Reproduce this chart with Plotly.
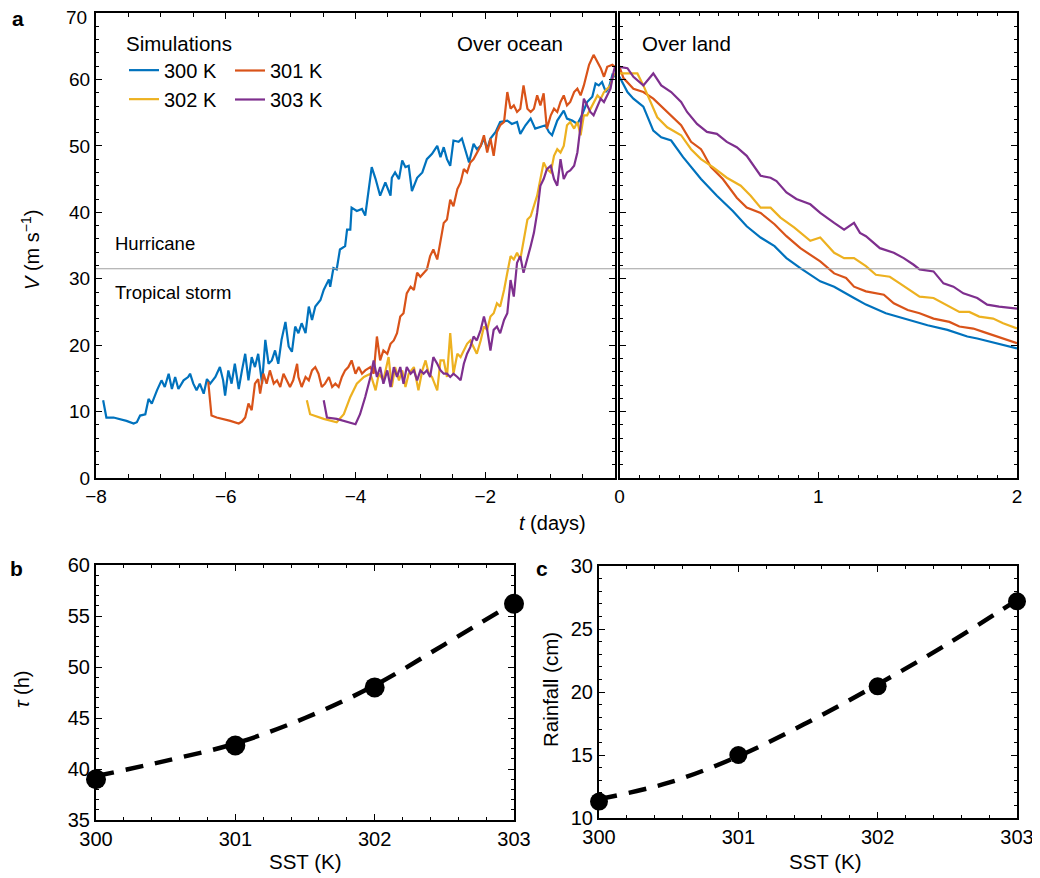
import plotly.graph_objects as go

# ---------------- data ----------------
SERIES = ["300 K", "301 K", "302 K", "303 K"]
COLORS = ["#0072BD", "#D95319", "#EDB120", "#7E2F8E"]
HURRICANE_V = 31.5
V_TICKS = [0, 10, 20, 30, 40, 50, 60, 70]

# Over ocean (t in days, V in m/s)
t_ocean_300 = [-7.89, -7.84, -7.73, -7.63, -7.53, -7.42, -7.37, -7.32, -7.24, -7.19, -7.14, -7.06, -6.99, -6.94,
               -6.88, -6.83, -6.78, -6.73, -6.65, -6.58, -6.55, -6.50, -6.45, -6.40, -6.34, -6.29, -6.24, -6.16,
               -6.09, -6.04, -6.01, -5.96, -5.91, -5.86, -5.80, -5.75, -5.70, -5.65, -5.60, -5.55, -5.50, -5.44,
               -5.39, -5.34, -5.29, -5.24, -5.19, -5.14, -5.08, -5.03, -4.98, -4.93, -4.88, -4.83, -4.77, -4.72,
               -4.67, -4.62, -4.54, -4.49, -4.41, -4.39, -4.34, -4.29, -4.24, -4.16, -4.13, -4.08, -4.06, -3.98,
               -3.90, -3.85, -3.75, -3.69, -3.62, -3.54, -3.46, -3.44, -3.39, -3.33, -3.28, -3.23, -3.18, -3.13,
               -3.05, -2.97, -2.90, -2.82, -2.74, -2.69, -2.64, -2.59, -2.54, -2.49, -2.41, -2.36, -2.31, -2.25,
               -2.18, -2.13, -2.07, -2.02, -1.97, -1.92, -1.84, -1.77, -1.66, -1.59, -1.51, -1.46, -1.38, -1.30,
               -1.23, -1.15, -1.07, -1.02, -0.97, -0.89, -0.84, -0.79, -0.74, -0.66, -0.58, -0.51, -0.43, -0.35,
               -0.30, -0.25, -0.20, -0.14, -0.09, -0.04, 0.0]
v_ocean_300 = [11.7, 9.1, 9.1, 8.9, 8.6, 8.2, 8.4, 9.4, 9.6, 11.9, 11.2, 13.2, 14.7, 13.7,
               15.7, 13.4, 15.2, 13.4, 14.7, 15.2, 15.7, 14.2, 13.2, 14.2, 12.7, 14.9, 14.2, 15.2,
               16.7, 14.7, 12.4, 16.2, 14.2, 17.2, 13.4, 16.2, 18.7, 14.7, 18.2, 16.7, 18.7, 14.2,
               20.8, 17.2, 17.7, 19.2, 17.2, 20.8, 23.5, 19.8, 19.0, 22.8, 21.8, 23.3, 21.8, 25.8,
               23.8, 25.8, 26.8, 28.3, 29.9, 28.8, 31.6, 31.4, 34.4, 34.9, 37.4, 37.4, 40.7, 40.2,
               40.5, 39.5, 46.8, 45.0, 42.5, 44.5, 42.5, 45.2, 46.0, 45.0, 47.8, 46.8, 47.0, 43.2,
               45.2, 46.0, 48.0, 48.8, 50.0, 48.3, 49.8, 48.0, 47.0, 50.8, 50.6, 51.1, 49.5, 47.5,
               50.3, 49.5, 50.0, 51.1, 49.5, 51.1, 52.1, 53.6, 53.8, 53.3, 53.6, 51.8, 53.1, 54.1,
               52.6, 52.8, 53.1, 52.1, 51.6, 53.8, 54.6, 55.3, 54.1, 53.8, 53.3, 54.6, 56.6, 57.4,
               59.4, 59.1, 59.6, 58.1, 58.9, 60.7, 60.4]

t_ocean_301 = [-6.27, -6.22, -6.14, -6.04, -5.93, -5.80, -5.75, -5.70, -5.65, -5.60, -5.55, -5.50, -5.47, -5.42,
               -5.37, -5.32, -5.26, -5.21, -5.16, -5.11, -5.06, -5.01, -4.96, -4.90, -4.88, -4.83, -4.77, -4.72,
               -4.67, -4.62, -4.57, -4.52, -4.47, -4.41, -4.36, -4.31, -4.26, -4.21, -4.16, -4.11, -4.06, -4.00,
               -3.95, -3.90, -3.85, -3.77, -3.72, -3.67, -3.62, -3.57, -3.51, -3.46, -3.41, -3.36, -3.31, -3.26,
               -3.21, -3.15, -3.10, -3.05, -3.00, -2.95, -2.90, -2.85, -2.80, -2.74, -2.69, -2.64, -2.59, -2.54,
               -2.49, -2.43, -2.38, -2.33, -2.28, -2.23, -2.18, -2.13, -2.07, -2.02, -1.97, -1.92, -1.87, -1.82,
               -1.77, -1.71, -1.66, -1.61, -1.56, -1.51, -1.46, -1.41, -1.35, -1.30, -1.25, -1.20, -1.15, -1.10,
               -1.05, -0.99, -0.94, -0.89, -0.84, -0.79, -0.74, -0.69, -0.63, -0.58, -0.53, -0.48, -0.40, -0.33,
               -0.27, -0.22, -0.17, -0.12, -0.04, 0.0]
v_ocean_301 = [14.5, 9.4, 9.1, 8.9, 8.6, 8.2, 8.5, 9.1, 11.2, 10.2, 14.2, 14.9, 12.7, 15.7,
               14.2, 16.2, 14.2, 14.7, 13.7, 15.7, 14.7, 13.7, 14.7, 17.2, 15.2, 13.7, 15.2, 14.7,
               16.2, 16.7, 15.7, 13.7, 14.2, 15.2, 13.7, 14.2, 13.7, 15.2, 16.2, 16.7, 17.7, 15.7,
               16.7, 15.7, 16.2, 16.7, 15.7, 21.3, 17.7, 19.2, 18.7, 20.2, 20.7, 21.8, 24.3, 24.8,
               27.8, 28.8, 28.3, 30.9, 30.3, 30.9, 31.4, 33.4, 34.4, 32.9, 35.9, 38.4, 38.9, 41.9,
               40.9, 43.5, 44.5, 46.5, 46.0, 47.5, 48.0, 49.0, 50.0, 51.6, 49.0, 51.1, 48.5, 52.1,
               53.1, 53.6, 58.1, 55.6, 56.1, 55.1, 55.6, 59.1, 55.6, 55.1, 55.6, 57.6, 56.1, 57.9,
               52.6, 54.6, 55.6, 55.1, 56.6, 57.6, 56.1, 56.6, 58.1, 58.6, 57.6, 59.1, 62.2, 63.7,
               62.7, 61.7, 60.4, 61.9, 62.2, 61.9]

t_ocean_302 = [-4.75, -4.70, -4.49, -4.29, -4.18, -4.08, -3.98, -3.87, -3.77, -3.69, -3.64, -3.57, -3.49, -3.44,
               -3.39, -3.33, -3.28, -3.23, -3.18, -3.10, -3.03, -2.97, -2.92, -2.87, -2.82, -2.74, -2.69, -2.64,
               -2.59, -2.54, -2.49, -2.43, -2.38, -2.33, -2.28, -2.23, -2.18, -2.13, -2.07, -2.02, -1.97, -1.92,
               -1.87, -1.82, -1.77, -1.71, -1.66, -1.61, -1.56, -1.51, -1.46, -1.41, -1.35, -1.30, -1.25, -1.20,
               -1.15, -1.10, -1.05, -0.99, -0.94, -0.89, -0.84, -0.79, -0.74, -0.69, -0.63, -0.58, -0.53, -0.48,
               -0.43, -0.38, -0.33, -0.27, -0.22, -0.17, -0.12, -0.07, -0.02, 0.0]
v_ocean_302 = [11.7, 9.6, 8.9, 8.4, 9.6, 12.2, 14.2, 15.2, 15.7, 13.2, 15.7, 14.7, 18.2, 13.7,
               16.7, 14.7, 16.2, 13.7, 15.7, 16.7, 13.2, 16.2, 17.7, 15.7, 15.2, 13.2, 17.7, 17.7,
               15.2, 21.8, 15.7, 18.7, 18.2, 19.2, 20.2, 20.7, 19.7, 18.7, 20.7, 22.8, 22.3, 24.3,
               24.8, 26.3, 25.8, 28.3, 30.9, 33.4, 32.9, 33.9, 32.9, 35.9, 38.9, 39.4, 40.9, 42.5,
               45.0, 47.5, 46.5, 46.0, 48.5, 49.5, 49.0, 50.0, 53.1, 53.6, 52.6, 53.6, 51.6, 54.6,
               54.6, 55.6, 56.6, 57.6, 57.1, 58.1, 58.6, 59.1, 60.7, 60.9]

t_ocean_303 = [-4.49, -4.44, -4.29, -4.13, -4.00, -3.93, -3.85, -3.77, -3.72, -3.67, -3.62, -3.57, -3.51, -3.46,
               -3.41, -3.36, -3.31, -3.26, -3.21, -3.15, -3.10, -3.05, -3.00, -2.95, -2.90, -2.85, -2.80, -2.74,
               -2.69, -2.64, -2.59, -2.54, -2.49, -2.43, -2.38, -2.33, -2.28, -2.23, -2.18, -2.13, -2.07, -2.02,
               -1.97, -1.92, -1.87, -1.82, -1.77, -1.71, -1.66, -1.61, -1.56, -1.51, -1.46, -1.41, -1.35, -1.30,
               -1.25, -1.20, -1.15, -1.10, -1.05, -0.99, -0.94, -0.89, -0.84, -0.79, -0.74, -0.69, -0.63, -0.58,
               -0.53, -0.48, -0.43, -0.38, -0.33, -0.27, -0.22, -0.17, -0.12, -0.07, -0.02, 0.0]
v_ocean_303 = [11.7, 9.1, 8.9, 8.4, 8.1, 9.6, 12.2, 15.2, 17.7, 15.2, 16.7, 14.2, 16.2, 13.7,
               16.7, 15.2, 16.7, 14.2, 16.7, 15.7, 16.2, 14.7, 16.2, 15.7, 16.2, 15.2, 18.2, 17.2,
               16.2, 15.7, 15.7, 15.2, 15.7, 15.2, 14.7, 17.2, 18.7, 19.7, 21.3, 20.7, 22.3, 24.3,
               22.3, 19.2, 22.3, 22.8, 21.8, 23.8, 24.8, 29.8, 27.3, 32.4, 33.4, 30.9, 32.9, 34.9,
               36.9, 39.9, 44.0, 45.0, 46.5, 47.0, 45.0, 44.0, 48.0, 45.0, 46.0, 46.3, 47.0, 49.0,
               53.1, 57.1, 56.1, 55.1, 54.6, 56.1, 57.1, 56.6, 57.6, 58.6, 61.2, 61.9]

# Over land
t_land_300 = [0.0, 0.04, 0.07, 0.12, 0.17, 0.21, 0.26, 0.32, 0.41, 0.49, 0.57, 0.64, 0.71, 0.78, 0.84, 0.91,
              1.01, 1.08, 1.18, 1.24, 1.34, 1.45, 1.55, 1.65, 1.75, 1.80, 1.90, 2.0]
v_land_300 = [60.4, 58.1, 57.1, 55.9, 52.3, 51.3, 50.8, 48.3, 45.0, 42.5, 40.2, 37.9, 36.2, 34.9, 33.1, 31.6,
              29.6, 28.8, 27.1, 26.1, 24.8, 23.8, 23.0, 22.3, 21.3, 21.0, 20.2, 19.5]

t_land_301 = [0.0, 0.02, 0.07, 0.12, 0.17, 0.24, 0.31, 0.36, 0.41, 0.42, 0.46, 0.52, 0.59, 0.64, 0.71, 0.78,
              0.84, 0.91, 1.01, 1.08, 1.14, 1.18, 1.24, 1.33, 1.38, 1.45, 1.51, 1.58, 1.66, 1.71, 1.78,
              1.83, 1.96, 2.0]
v_land_301 = [61.9, 60.2, 58.6, 58.1, 57.1, 55.1, 53.1, 50.6, 49.5, 49.0, 46.8, 45.0, 42.2, 40.7, 39.9, 38.2,
              36.4, 34.6, 32.6, 30.8, 30.1, 28.8, 28.1, 27.6, 26.3, 25.3, 24.8, 24.0, 23.5, 22.8, 22.5,
              22.0, 20.7, 20.3]

t_land_302 = [0.0, 0.09, 0.12, 0.16, 0.19, 0.24, 0.31, 0.36, 0.41, 0.47, 0.54, 0.61, 0.66, 0.71, 0.76, 0.81,
              0.88, 0.96, 1.01, 1.08, 1.13, 1.18, 1.24, 1.29, 1.36, 1.41, 1.51, 1.58, 1.65, 1.71, 1.76,
              1.81, 1.88, 1.93, 2.0]
v_land_302 = [60.9, 60.9, 59.1, 56.4, 54.3, 52.8, 51.6, 49.5, 48.0, 46.8, 45.2, 44.0, 42.5, 40.7, 40.7, 39.2,
              37.7, 35.7, 36.2, 33.9, 33.1, 33.1, 31.9, 30.6, 30.3, 29.3, 27.3, 27.1, 26.0, 25.0, 25.0,
              24.3, 24.0, 23.3, 22.5]

t_land_303 = [0.0, 0.04, 0.07, 0.12, 0.17, 0.21, 0.26, 0.31, 0.34, 0.39, 0.44, 0.49, 0.54, 0.59, 0.64, 0.71,
              0.76, 0.79, 0.84, 0.89, 0.96, 1.01, 1.08, 1.13, 1.18, 1.21, 1.24, 1.31, 1.38, 1.43, 1.48,
              1.51, 1.58, 1.63, 1.68, 1.73, 1.80, 1.85, 1.91, 2.0]
v_land_303 = [61.9, 61.7, 60.4, 59.1, 60.9, 59.1, 58.1, 56.6, 55.1, 53.3, 52.1, 51.8, 50.6, 49.8, 48.5, 45.5,
              45.2, 44.7, 43.0, 42.0, 41.2, 39.9, 38.4, 37.4, 38.4, 36.9, 36.4, 34.6, 33.9, 33.1, 32.1,
              31.4, 31.1, 29.3, 28.8, 27.8, 27.1, 26.1, 25.8, 25.5]

t_ocean = [t_ocean_300, t_ocean_301, t_ocean_302, t_ocean_303]
v_ocean = [v_ocean_300, v_ocean_301, v_ocean_302, v_ocean_303]
t_land = [t_land_300, t_land_301, t_land_302, t_land_303]
v_land = [v_land_300, v_land_301, v_land_302, v_land_303]

# Panel b / c
sst = [300, 301, 302, 303]
tau_h = [39.0, 42.3, 48.0, 56.2]
rain_cm = [11.3, 15.0, 20.45, 27.2]
sst_fit = [300, 300.5, 301, 301.5, 302, 302.5, 303]
tau_fit = [39.3, 40.8, 42.5, 45.0, 48.2, 52.2, 56.3]
rain_fit = [11.5, 12.8, 14.9, 17.6, 20.6, 23.8, 27.3]

# ---------------- figure ----------------
FONT = "Liberation Sans, Arial, Helvetica, sans-serif"
fig = go.Figure()

for i, name in enumerate(SERIES):
    fig.add_trace(go.Scatter(
        x=t_ocean[i], y=v_ocean[i], mode="lines", name=name,
        line=dict(color=COLORS[i], width=2.2),
        legend="legend" if i % 2 == 0 else "legend2",
        xaxis="x", yaxis="y", showlegend=True))
for i, name in enumerate(SERIES):
    fig.add_trace(go.Scatter(
        x=t_land[i], y=v_land[i], mode="lines", name=name,
        line=dict(color=COLORS[i], width=2.2),
        xaxis="x2", yaxis="y2", showlegend=False))

# hurricane threshold lines
for xa, ya, xr in [("x", "y", [-8, 0]), ("x2", "y2", [0, 2])]:
    fig.add_trace(go.Scatter(x=xr, y=[HURRICANE_V, HURRICANE_V], mode="lines",
                             line=dict(color="#a0a0a0", width=1), xaxis=xa, yaxis=ya,
                             showlegend=False, hoverinfo="skip"))

# panel b
fig.add_trace(go.Scatter(x=sst_fit, y=tau_fit, mode="lines", line=dict(color="black", width=4.5, dash="18px,12px",
                         shape="spline"), xaxis="x3", yaxis="y3", showlegend=False))
fig.add_trace(go.Scatter(x=sst, y=tau_h, mode="markers", marker=dict(color="black", size=20),
                         xaxis="x3", yaxis="y3", showlegend=False, cliponaxis=False))
# panel c
fig.add_trace(go.Scatter(x=sst_fit, y=rain_fit, mode="lines", line=dict(color="black", width=4.5, dash="18px,12px",
                         shape="spline"), xaxis="x4", yaxis="y4", showlegend=False))
fig.add_trace(go.Scatter(x=sst, y=rain_cm, mode="markers", marker=dict(color="black", size=18),
                         xaxis="x4", yaxis="y4", showlegend=False, cliponaxis=False))

# page has an 8px body margin: the figure is drawn from (8, 8) of the window
OFF = 8
W, H = 1040 - OFF, 878 - OFF


def px_x(p):
    return (p - OFF) / W


def px_y(p):
    return 1 - (p - OFF) / H


def axis_common(size):
    return dict(showline=True, linecolor="black", linewidth=2.2, mirror="allticks", ticks="inside",
                tickcolor="black", ticklen=6, tickwidth=1, showgrid=False, zeroline=False, automargin=False,
                ticklabeloverflow="allow",
                tickfont=dict(family=FONT, size=size, color="black"))


# the top label ("70") sits right at the figure edge; it is drawn as an annotation a few px lower
v_tick_text = [str(v) for v in V_TICKS[:-1]] + [""]

fig.update_layout(
    width=W, height=H, margin=dict(l=0, r=0, t=0, b=0, autoexpand=False),
    paper_bgcolor="white", plot_bgcolor="white",
    font=dict(family=FONT, color="black", size=19),
    xaxis=dict(domain=[px_x(96), px_x(615)], range=[-8, 0], anchor="y",
               tickvals=[-8, -6, -4, -2], minor=dict(ticks="inside", dtick=0.5, ticklen=4, tickcolor="black"),
               **axis_common(19)),
    yaxis=dict(domain=[px_y(478), px_y(13)], range=[0, 70], anchor="x",
               tickvals=V_TICKS, ticktext=v_tick_text,
               minor=dict(ticks="inside", dtick=2, ticklen=3, tickcolor="black"), **axis_common(19)),
    xaxis2=dict(domain=[px_x(619.5), px_x(1017)], range=[0, 2], anchor="y2",
                tickvals=[0, 1, 2],
                minor=dict(ticks="inside", dtick=0.1, ticklen=3, tickcolor="black"), **axis_common(19)),
    yaxis2=dict(domain=[px_y(478), px_y(13)], range=[0, 70], anchor="x2", dtick=10, showticklabels=False,
                minor=dict(ticks="inside", dtick=2, ticklen=3, tickcolor="black"), **axis_common(19)),
    xaxis3=dict(domain=[px_x(96), px_x(514)], range=[300, 303], anchor="y3", dtick=1,
                minor=dict(ticks="inside", dtick=0.2, ticklen=3, tickcolor="black"), **axis_common(20)),
    yaxis3=dict(domain=[px_y(820), px_y(565)], range=[35, 60], anchor="x3", dtick=5,
                minor=dict(ticks="inside", dtick=1, ticklen=3, tickcolor="black"), **axis_common(20)),
    xaxis4=dict(domain=[px_x(599), px_x(1017)], range=[300, 303], anchor="y4", dtick=1,
                minor=dict(ticks="inside", dtick=0.2, ticklen=3, tickcolor="black"), **axis_common(20)),
    yaxis4=dict(domain=[px_y(818), px_y(566)], range=[10, 30], anchor="x4", dtick=5,
                minor=dict(ticks="inside", dtick=1, ticklen=3, tickcolor="black"), **axis_common(20)),
    legend=dict(x=px_x(124), y=px_y(24), xanchor="left", yanchor="top", bgcolor="rgba(0,0,0,0)",
                title=dict(text="Simulations", font=dict(size=20.5)), font=dict(size=20),
                itemwidth=30, tracegroupgap=0),
    legend2=dict(x=px_x(230), y=px_y(51), xanchor="left", yanchor="top", bgcolor="rgba(0,0,0,0)",
                 font=dict(size=20), itemwidth=30, tracegroupgap=0),
)

ann = [
    dict(text="<b>a</b>", x=px_x(18), y=px_y(19), size=21),
    dict(text="<b>b</b>", x=px_x(16), y=px_y(568), size=21),
    dict(text="<b>c</b>", x=px_x(542), y=px_y(568), size=21),
    dict(text="Over ocean", x=px_x(510), y=px_y(43), size=20.5),
    dict(text="Over land", x=px_x(686), y=px_y(43), size=20.5),
    dict(text="Hurricane", x=px_x(155), y=px_y(243), size=18.5),
    dict(text="Tropical storm", x=px_x(173), y=px_y(292), size=18.5),
    dict(text="<i>t</i> (days)", x=px_x(552), y=px_y(523), size=20),
    dict(text="<i>V</i> (m s<sup>−1</sup>)", x=px_x(30), y=px_y(250), angle=-90, size=20),
    dict(text="<i>τ</i> (h)", x=px_x(22), y=px_y(690), angle=-90, size=20),
    dict(text="SST (K)", x=px_x(305), y=px_y(861), size=20.5),
    dict(text="Rainfall (cm)", x=px_x(550), y=px_y(690), angle=-90, size=20.5),
    dict(text="SST (K)", x=px_x(825), y=px_y(861), size=20.5),
]
for a in ann:
    fig.add_annotation(text=a["text"], x=a["x"], y=a["y"], xref="paper", yref="paper",
                       showarrow=False, xanchor="center", yanchor="middle",
                       textangle=a.get("angle", 0),
                       font=dict(family=FONT, size=a.get("size", 19), color="black"))

# top V tick label
fig.add_annotation(text=str(V_TICKS[-1]), x=px_x(89), y=px_y(18), xref="paper", yref="paper",
                   showarrow=False, xanchor="right", yanchor="middle",
                   font=dict(family=FONT, size=19, color="black"))

fig.write_html("out.html")
